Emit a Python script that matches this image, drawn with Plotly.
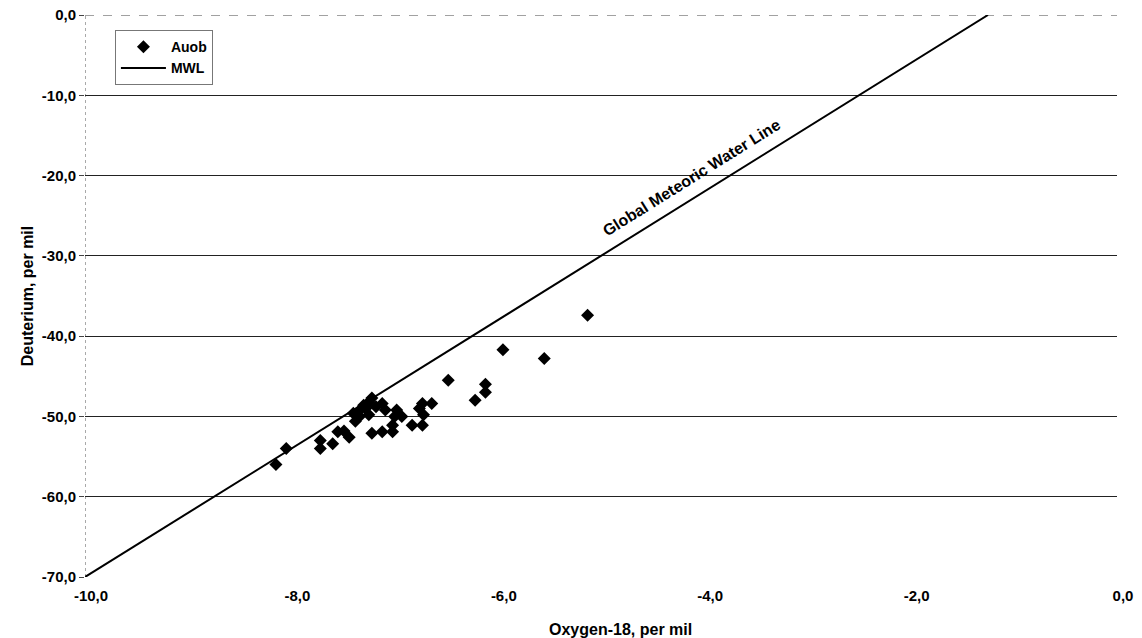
import plotly.graph_objects as go

# Auob samples (Oxygen-18 vs Deuterium, per mil)
auob_o18 = [-8.15, -8.05, -7.72, -7.72, -7.60, -7.55, -7.49, -7.44, -7.38, -7.35,
            -7.34, -7.28, -7.25, -7.22, -7.25, -7.22, -7.18, -7.12, -7.12, -7.09,
            -7.02, -7.02, -7.00, -6.98, -6.93, -6.83, -6.76, -6.73, -6.73, -6.72,
            -6.64, -6.48, -6.22, -6.12, -6.12, -5.95, -5.55, -5.13, -7.30, -7.40]
auob_d = [-56.0, -54.0, -53.0, -54.0, -53.4, -51.9, -51.8, -52.6, -50.6, -49.4,
          -50.0, -49.0, -48.2, -47.7, -49.8, -52.1, -48.8, -48.4, -51.9, -49.2,
          -51.9, -51.1, -50.0, -49.2, -50.0, -51.1, -49.0, -48.4, -51.1, -49.8,
          -48.4, -45.5, -48.0, -46.0, -47.0, -41.7, -42.8, -37.4, -48.6, -49.6]

# Global Meteoric Water Line endpoints
mwl_o18 = [-10.0, -1.25]
mwl_d = [-70.0, 0.0]

x_ticks = [-10, -8, -6, -4, -2, 0]
x_tick_labels = ["-10,0", "-8,0", "-6,0", "-4,0", "-2,0", "0,0"]
y_ticks = [0, -10, -20, -30, -40, -50, -60, -70]
y_tick_labels = ["0,0", "-10,0", "-20,0", "-30,0", "-40,0", "-50,0", "-60,0", "-70,0"]

font_family = "Liberation Sans, Arial, sans-serif"

fig = go.Figure()
fig.add_trace(go.Scatter(x=auob_o18, y=auob_d, mode="markers", name="Auob",
                         marker=dict(symbol="diamond", size=10, color="black")))
fig.add_trace(go.Scatter(x=mwl_o18, y=mwl_d, mode="lines", name="MWL",
                         line=dict(color="black", width=2)))

# dotted left axis and top (0) gridline
fig.add_shape(type="line", x0=-10, x1=-10, y0=-70, y1=0, xref="x", yref="y",
              line=dict(color="#555", width=1, dash="dot"), layer="below")
fig.add_shape(type="line", x0=-10, x1=0, y0=0, y1=0, xref="x", yref="y",
              line=dict(color="#444", width=1, dash="dash"), layer="below")

fig.add_annotation(x=-4.12, y=-20.3, text="<b>Global Meteoric Water Line</b>",
                   textangle=-32, showarrow=False,
                   font=dict(family=font_family, size=16, color="black"))

# x-axis title (slightly right of centre, as in the original)
fig.add_annotation(x=0.5, y=0, xref="paper", yref="paper", xshift=19, yshift=-42,
                   yanchor="top", showarrow=False,
                   text="<b>Oxygen-18, per mil</b>",
                   font=dict(family=font_family, size=16, color="black"))

fig.update_layout(
    width=1142, height=638,
    margin=dict(l=85, r=25, t=15, b=61, autoexpand=False),
    paper_bgcolor="white", plot_bgcolor="white",
    font=dict(family=font_family, size=15, color="black", weight="bold"),
    showlegend=True,
    legend=dict(x=0.029, y=0.973, xanchor="left", yanchor="top",
                bgcolor="white", bordercolor="#777", borderwidth=1,
                font=dict(family=font_family, size=14, weight="bold"),
                itemwidth=45, tracegroupgap=2),
    xaxis=dict(range=[-10, 0], tickvals=x_ticks, ticktext=x_tick_labels,
               showgrid=False, zeroline=False, showline=False, automargin=False,
               ticks="", ticklabelstandoff=8, ticklabelshift=6,
               ticklabeloverflow="allow"),
    yaxis=dict(range=[-70, 0], tickvals=y_ticks, ticktext=y_tick_labels,
               showgrid=True, gridcolor="#222", gridwidth=1, automargin=False,
               zeroline=False, showline=False, ticklabeloverflow="allow",
               ticks="outside", ticklen=5, tickcolor="#444",
               title=dict(text="Deuterium, per mil", standoff=4,
                          font=dict(size=16, weight="bold"))),
)

# remove the default page margin so the figure fills the window exactly
fig.write_html("out.html", config={"displayModeBar": False},
               post_script="document.body.style.margin='0';")
